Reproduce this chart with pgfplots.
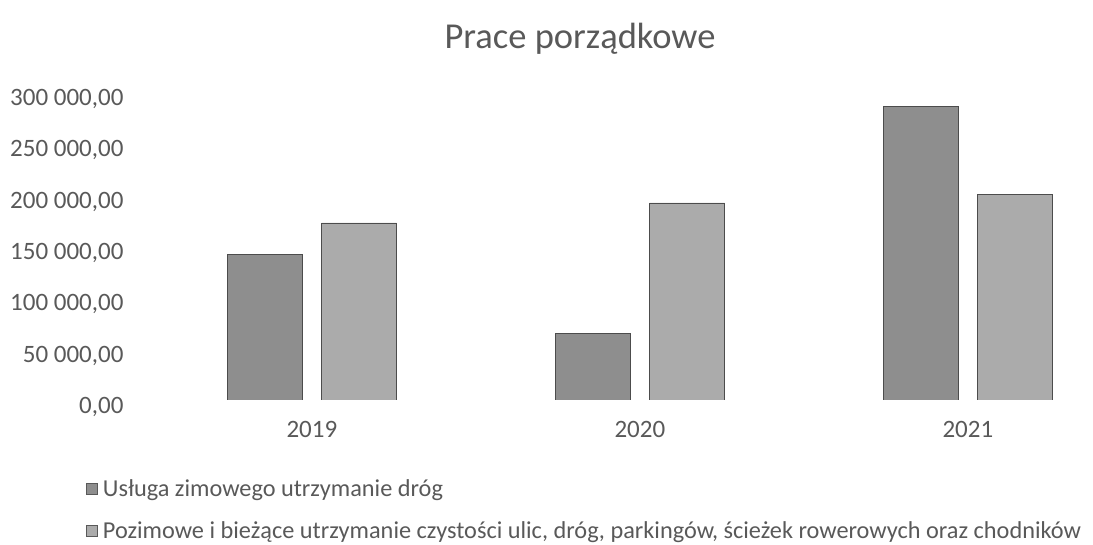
\documentclass[border=0pt]{standalone}
\usepackage{pgfplots}
\pgfplotsset{compat=1.18}
\usepackage{fontspec}
\setmainfont{Carlito}
\definecolor{barA}{HTML}{8E8E8E}
\definecolor{barB}{HTML}{ABABAB}
\definecolor{txt}{HTML}{595959}
\begin{document}
\begin{tikzpicture}[x=1pt,y=1pt]
\path (0,0) rectangle (1093,545);
\node[text=txt,font=\fontsize{36.5}{42}\selectfont] at (580,506) {Prace porządkowe};
\begin{axis}[
  at={(140pt,145pt)}, anchor=south west,
  scale only axis, width=945pt, height=308pt,
  xmin=-0.524, xmax=2.357, ymin=0, ymax=300000,
  axis line style={draw=none}, tick style={draw=none},
  ybar, bar width=0.228,
  xtick={0,1,2}, xticklabels={2019,2020,2021},
  ytick={0,50000,100000,150000,200000,250000,300000},
  scaled y ticks=false,
  yticklabel style={/pgf/number format/fixed, /pgf/number format/fixed zerofill, /pgf/number format/precision=2, /pgf/number format/1000 sep={\ }, /pgf/number format/dec sep={,}, /pgf/number format/assume math mode=true, xshift=-13pt, yshift=-7pt},
  ticklabel style={text=txt, font=\fontsize{25}{30}\selectfont},
  xticklabel style={yshift=-18pt},
  major tick length=0pt,
  legend style={at={(-0.061,-0.245)}, anchor=north west, draw=none, fill=none,
    font=\fontsize{24.3}{29}\selectfont, text=txt, row sep=20pt,
    legend cell align=left,
    nodes={inner xsep=6pt}},
  legend image code/.code={\draw[#1, draw=gray!70!black, line width=0.4pt] (0pt,-5pt) rectangle (11pt,6pt);},
]
\addplot[bar shift=-0.144, fill=barA, draw=gray!60!black, line width=0.6pt] coordinates {(0,142000) (1,65000) (2,286000)};
\addplot[bar shift=0.144, fill=barB, draw=gray!60!black, line width=0.6pt] coordinates {(0,172500) (1,192000) (2,200500)};
\legend{{Usługa zimowego utrzymanie dróg}, {Pozimowe i bieżące utrzymanie czystości ulic, dróg, parkingów, ścieżek rowerowych oraz chodników}}
\end{axis}
\end{tikzpicture}
\end{document}
